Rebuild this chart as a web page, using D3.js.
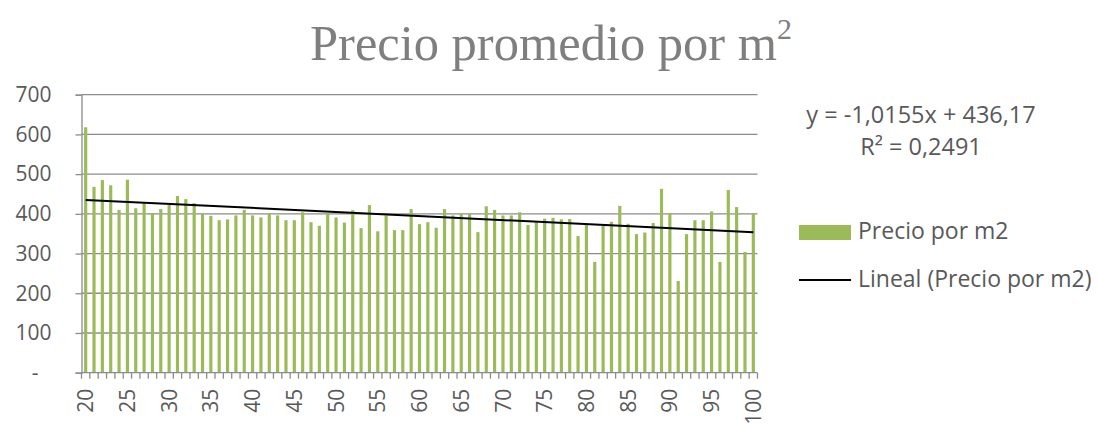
<!DOCTYPE html>
<html>
<head>
<meta charset="utf-8">
<script src="https://cdn.jsdelivr.net/npm/d3@7"></script>
<style>
  html, body { margin: 0; padding: 0; background: #fff; }
  svg { display: block; }
</style>
</head>
<body>
<script>
// ---- DATA ----
const categories = [20,21,22,23,24,25,26,27,28,29,30,31,32,33,34,35,36,37,38,39,40,41,42,43,44,45,46,47,48,49,50,51,52,53,54,55,56,57,58,59,60,61,62,63,64,65,66,67,68,69,70,71,72,73,74,75,76,77,78,79,80,81,82,83,84,85,86,87,88,89,90,91,92,93,94,95,96,97,98,99,100];
const precioPorM2 = [618,468,485,472,410,486,414,427,402,412,422,445,437,427,400,395,384,386,396,410,396,391,402,396,384,384,404,379,370,402,391,378,409,364,422,356,396,359,359,412,374,379,365,412,396,400,400,354,419,410,396,396,404,372,379,388,390,386,387,344,372,279,371,380,420,375,349,353,377,463,402,231,349,384,384,406,279,460,417,304,402];
const xTickLabels = [20,25,30,35,40,45,50,55,60,65,70,75,80,85,90,95,100];
const yTicks = [0,100,200,300,400,500,600,700];
const yTickLabels = ["-","100","200","300","400","500","600","700"];
const trendSlope = -1.0155;
const trendIntercept = 436.17;
const equationText = "y = -1,0155x + 436,17";
const r2Text = "R² = 0,2491";
const seriesName = "Precio por m2";
const trendName = "Lineal (Precio por m2)";

// ---- LAYOUT ----
const W = 1099, H = 425;
const pLeft = 81.5, pRight = 757.5, pTop = 94.7, pBottom = 372.7;
const gridColor = "#8c8c8c";
const textColor = "#595959";
const barColor = "#9bbb59";
const sans = "'Open Sans', sans-serif";

const svg = d3.select("body").append("svg").attr("width", W).attr("height", H);

const x = d3.scaleBand().domain(categories).range([pLeft, pRight]).paddingInner(0.62).paddingOuter(0.31);
const y = d3.scaleLinear().domain([0, 700]).range([pBottom, pTop]);

// title
const title = svg.append("text")
  .attr("x", 551).attr("y", 60)
  .attr("text-anchor", "middle")
  .attr("font-family", "'Liberation Serif', serif")
  .attr("font-size", 50.5)
  .attr("fill", "#7f7f7f");
title.append("tspan").text("Precio promedio por m");
title.append("tspan").attr("font-size", 30).attr("dy", -21).text("2");

// gridlines
svg.append("g").selectAll("line").data(yTicks.filter(d => d > 0)).join("line")
  .attr("x1", pLeft).attr("x2", pRight)
  .attr("y1", d => y(d)).attr("y2", d => y(d))
  .attr("stroke", gridColor).attr("stroke-width", 1.3);

// y axis
const yAxis = d3.axisLeft(y).tickValues(yTicks).tickSize(6).tickPadding(24)
  .tickFormat((d, i) => yTickLabels[i]);
const gy = svg.append("g").attr("transform", `translate(${pLeft},0)`).call(yAxis);
gy.select(".domain").attr("stroke", gridColor).attr("stroke-width", 1.3);
gy.selectAll(".tick line").attr("stroke", gridColor).attr("stroke-width", 1.3);
gy.selectAll(".tick text").attr("fill", textColor).attr("font-family", sans).attr("font-size", 21)
  .attr("dx", (d) => d === 0 ? -13 : 0);

// bars
svg.append("g").selectAll("rect").data(categories).join("rect")
  .attr("x", (d) => x(d))
  .attr("width", x.bandwidth())
  .attr("y", (d, i) => y(precioPorM2[i]))
  .attr("height", (d, i) => pBottom - y(precioPorM2[i]))
  .attr("fill", barColor);

// x axis line
svg.append("line").attr("x1", pLeft).attr("x2", pRight).attr("y1", pBottom).attr("y2", pBottom)
  .attr("stroke", gridColor).attr("stroke-width", 1.3);
// category boundary ticks
const boundaries = categories.map(c => x(c) - x.step() * x.paddingInner() / 2);
boundaries.push(pRight);
svg.append("g").selectAll("line").data(boundaries).join("line")
  .attr("x1", d => d).attr("x2", d => d)
  .attr("y1", pBottom).attr("y2", pBottom + 6)
  .attr("stroke", gridColor).attr("stroke-width", 1.3);
// x labels
svg.append("g").selectAll("text").data(xTickLabels).join("text")
  .attr("transform", d => `translate(${x(d) + x.bandwidth() / 2},${pBottom + 16}) rotate(-90)`)
  .attr("text-anchor", "end")
  .attr("dy", "0.36em")
  .attr("fill", textColor).attr("font-family", sans).attr("font-size", 21)
  .text(d => d);

// trend line
const trendPts = [categories[0], categories[categories.length - 1]].map(c => {
  const idx = categories.indexOf(c) + 1;
  return [x(c) + x.bandwidth() / 2, y(trendSlope * idx + trendIntercept)];
});
svg.append("path").attr("d", d3.line()(trendPts))
  .attr("stroke", "#000").attr("stroke-width", 2).attr("fill", "none");

// equation
svg.append("text").attr("x", 921).attr("y", 123).attr("text-anchor", "middle")
  .attr("fill", textColor).attr("font-family", sans).attr("font-size", 23.5).text(equationText);
svg.append("text").attr("x", 921).attr("y", 155).attr("text-anchor", "middle")
  .attr("fill", textColor).attr("font-family", sans).attr("font-size", 23.5).text(r2Text);

// legend
svg.append("rect").attr("x", 799).attr("y", 225).attr("width", 52).attr("height", 15).attr("fill", barColor);
svg.append("text").attr("x", 858).attr("y", 239).attr("fill", textColor)
  .attr("font-family", sans).attr("font-size", 23).text(seriesName);
svg.append("line").attr("x1", 799).attr("x2", 851).attr("y1", 280).attr("y2", 280)
  .attr("stroke", "#000").attr("stroke-width", 2);
svg.append("text").attr("x", 858).attr("y", 287).attr("fill", textColor)
  .attr("font-family", sans).attr("font-size", 23).text(trendName);
</script>
</body>
</html>
